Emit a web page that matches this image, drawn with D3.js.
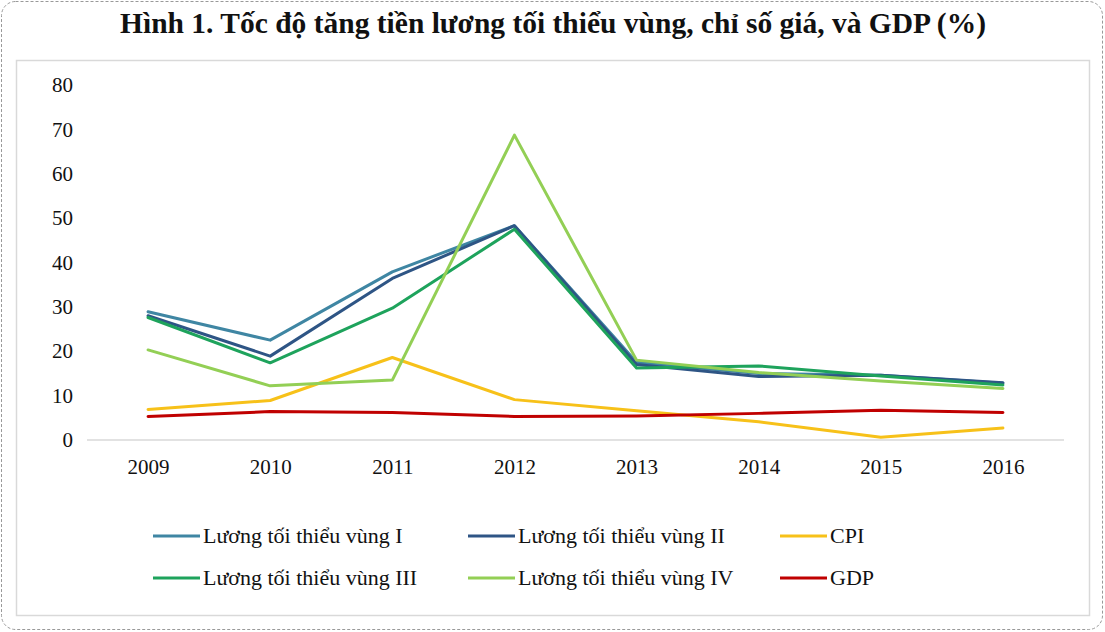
<!DOCTYPE html>
<html><head><meta charset="utf-8">
<script src="https://cdn.jsdelivr.net/npm/d3@7"></script>
<style>body{margin:0;background:#fff}svg{display:block}</style>
</head><body>
<svg id="c" width="1105" height="632"></svg>
<script>
const years = ["2009","2010","2011","2012","2013","2014","2015","2016"];
const vung1 = [28.9, 22.5, 37.9, 48.3, 17.5, 15.0, 14.6, 12.8];
const vung2 = [28.0, 18.9, 36.4, 48.3, 17.0, 14.3, 14.6, 12.9];
const cpi   = [6.9, 8.9, 18.6, 9.1, 6.6, 4.1, 0.6, 2.7];
const vung3 = [27.6, 17.4, 29.7, 47.5, 16.2, 16.7, 14.4, 12.4];
const vung4 = [20.3, 12.2, 13.5, 68.7, 18.0, 15.2, 13.3, 11.6];
const gdp   = [5.3, 6.4, 6.2, 5.3, 5.4, 6.0, 6.7, 6.2];
const seriesNames = ["Lương tối thiểu vùng I","Lương tối thiểu vùng II","CPI","Lương tối thiểu vùng III","Lương tối thiểu vùng IV","GDP"];
const seriesValues = [vung1, vung2, cpi, vung3, vung4, gdp];
const seriesColors = ["#3f86a3","#2e5585","#f7c119","#1ea35c","#93cf55","#c00000"];
const yTicks = [0,10,20,30,40,50,60,70,80];
const title = "Hình 1. Tốc độ tăng tiền lương tối thiểu vùng, chỉ số giá, và GDP (%)";

const svg = d3.select("#c");
const serif = "'Liberation Serif',serif";

// outer dashed frame
svg.append("rect").attr("x",1.5).attr("y",1.5).attr("width",1101).attr("height",628)
  .attr("rx",14).attr("fill","#fff").attr("stroke","#999").attr("stroke-dasharray","3,2").attr("stroke-width",1);
// inner chart frame
svg.append("rect").attr("x",16.5).attr("y",60.5).attr("width",1073).attr("height",555)
  .attr("fill","#fff").attr("stroke","#d9d9d9").attr("stroke-width",1.5);

svg.append("text").attr("x",553).attr("y",33).attr("text-anchor","middle")
  .attr("font-family",serif).attr("font-weight","bold")
  .attr("font-size",29).attr("fill","#111")
  .attr("textLength",866).attr("lengthAdjust","spacingAndGlyphs").text(title);

const x = d3.scalePoint().domain(years).range([87,1064]).padding(0.5);
const y = d3.scaleLinear().domain([0,80]).range([440,85]);

// baseline axis
const xAxis = svg.append("g").attr("transform","translate(0,440)")
  .call(d3.axisBottom(x).tickSize(0).tickPadding(19));
xAxis.select(".domain").attr("stroke","#d9d9d9").attr("stroke-width",1.5).attr("d","M87,0H1064");
xAxis.selectAll("text").attr("font-family",serif).attr("font-size",21).attr("fill","#111");

const yAxis = svg.append("g").attr("transform","translate(73,0)")
  .call(d3.axisLeft(y).tickValues(yTicks).tickSize(0).tickPadding(0));
yAxis.select(".domain").remove();
yAxis.selectAll("text").attr("font-family",serif).attr("font-size",21).attr("fill","#111");

const line = d3.line().x((d,i)=>x(years[i])).y(d=>y(d));
seriesValues.forEach((vals,k)=>{
  svg.append("path").datum(vals).attr("d",line).attr("fill","none")
    .attr("stroke",seriesColors[k]).attr("stroke-width",3).attr("stroke-linejoin","round").attr("stroke-linecap","round");
});

// legend
const colX = [153,468,780];
const rowY = [536,578];
seriesNames.forEach((n,k)=>{
  const cx = colX[k%3], cy = rowY[Math.floor(k/3)];
  svg.append("line").attr("x1",cx).attr("x2",cx+47).attr("y1",cy).attr("y2",cy)
    .attr("stroke",seriesColors[k]).attr("stroke-width",3);
  svg.append("text").attr("x",cx+50).attr("y",cy+7).attr("font-family",serif)
    .attr("font-size",22).attr("fill","#111").text(n);
});
</script>
</body></html>
